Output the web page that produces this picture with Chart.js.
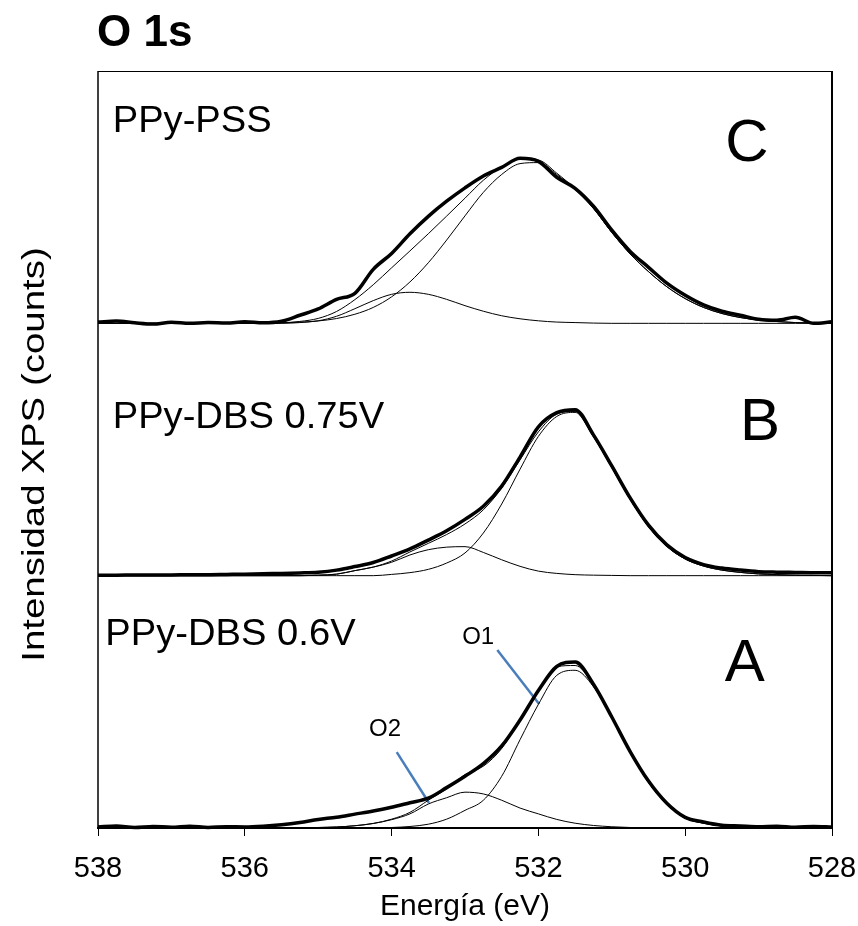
<!DOCTYPE html>
<html>
<head>
<meta charset="utf-8">
<script src="https://cdn.jsdelivr.net/npm/chart.js@4.4.1/dist/chart.umd.min.js"></script>
<style>
  html, body { margin: 0; padding: 0; background: #fff; }
  #wrap { width: 858px; height: 926px; }
</style>
</head>
<body>
<div id="wrap"><canvas id="myChart" width="858" height="926"></canvas></div>
<script>
  // binding energy grid (eV), read every 0.25 eV
  const energy = [538, 537.75, 537.5, 537.25, 537, 536.75, 536.5, 536.25, 536, 535.75,
    535.5, 535.25, 535, 534.75, 534.5, 534.25, 534, 533.75, 533.5, 533.25,
    533, 532.75, 532.5, 532.25, 532, 531.75, 531.5, 531.25, 531, 530.75,
    530.5, 530.25, 530, 529.75, 529.5, 529.25, 529, 528.75, 528.5, 528.25, 528];
  const xTicks = [538, 536, 534, 532, 530, 528];

  // C: PPy-PSS
  const cExp = [0.5, 0.9, 0.2, -0.3, 0.4, 0, 0.3, 0.1, 0.6, 0.2, 0.8, 3.2, 5.7, 9.5, 11.9, 21.4, 27.7, 35.5, 42.4, 48.4,
    53.7, 58.4, 61.8, 65.4, 64.2, 57.9, 53.5, 46.4, 36.9, 28.5, 22.2, 15.9, 11.1, 7.3, 4.8, 3.2, 1.6, 1.2, 2.4, 0, 0.6];
  const cFit = [0, 0, 0, 0, 0, 0, 0, 0, 0, 0, 0.2, 0.75, 1.95, 4.7, 9.4, 15.3, 22, 28.7, 35.5, 42.5,
    49.6, 56.7, 62, 65.1, 64.7, 59.5, 53.3, 45.6, 36, 27.5, 20.5, 14.5, 9.8, 6.3, 3.9, 2.3, 1.3, 0.7, 0.3, 0.1, 0];
  const cO1 = [0, 0, 0, 0, 0, 0, 0, 0, 0, 0, 0.2, 0.45, 0.95, 1.9, 3.6, 6.3, 10.5, 16.4, 24, 33,
    42.6, 51.9, 59, 63.3, 63.7, 59, 53, 45.5, 36, 27.5, 20.5, 14.5, 9.8, 6.3, 3.9, 2.3, 1.3, 0.7, 0.3, 0.1, 0];
  const cO2 = [0, 0, 0, 0, 0, 0, 0, 0, 0, 0, 0, 0.3, 1, 2.8, 5.8, 9, 11.5, 12.3, 11.5, 9.5,
    7, 4.8, 3, 1.8, 1, 0.5, 0.3, 0.1, 0, 0, 0, 0, 0, 0, 0, 0, 0, 0, 0, 0, 0];

  // B: PPy-DBS 0.75V
  const bExp = [0.2, 0.2, 0.3, 0.3, 0.3, 0.4, 0.4, 0.5, 0.6, 0.8, 0.9, 1.1, 1.4, 2.2, 3.6, 5.2, 7.8, 10.6, 14.1, 17.8,
    22.3, 27.5, 35.5, 47, 59, 64.6, 65.8, 55.8, 43.5, 30.8, 20, 12.2, 7.2, 4.4, 3, 2.2, 1.6, 1.4, 1.3, 1.2, 1.2];
  const bFit = [0, 0, 0, 0, 0, 0, 0, 0, 0, 0, 0, 0, 0.2, 0.6, 2, 3.4, 5.8, 9.4, 12.8, 16.3,
    20.5, 26.1, 34.7, 45.9, 57, 64, 65.1, 55.2, 42.9, 30.2, 19.4, 11.6, 6.6, 3.8, 2.2, 1.3, 0.7, 0.4, 0.2, 0.1, 0];
  const bO1 = [0, 0, 0, 0, 0, 0, 0, 0, 0, 0, 0, 0, 0, 0, 0, 0, 0.5, 1.2, 2.5, 5,
    9, 16.9, 28.4, 42.2, 55.2, 63.1, 64.7, 55, 42.8, 30.2, 19.4, 11.6, 6.6, 3.8, 2.2, 1.3, 0.7, 0.4, 0.2, 0.1, 0];
  const bO2 = [0, 0, 0, 0, 0, 0, 0, 0, 0, 0, 0, 0, 0.2, 0.6, 2, 3.4, 5.3, 8.2, 10.3, 11.3,
    11.5, 9.2, 6.3, 3.7, 1.8, 0.9, 0.4, 0.2, 0.1, 0, 0, 0, 0, 0, 0, 0, 0, 0, 0, 0, 0];

  // A: PPy-DBS 0.6V
  const aExp = [0.4, 0.8, 0.2, 0.6, 0.3, 0.7, 0.2, 0.5, 0.4, 0.7, 1.3, 2.2, 3.4, 4.3, 5.5, 6.7, 8.2, 10, 11.8, 16,
    20.5, 25.5, 32.5, 42.8, 54.5, 64, 65.8, 57, 44, 30.3, 18.6, 9.8, 4.2, 2.4, 1.1, 0.8, 0.5, 0.7, 0.3, 0.6, 0.4];
  const aFit = [0, 0, 0, 0, 0, 0, 0, 0, 0, 0, 0, 0, 0.2, 0.4, 0.9, 1.8, 3.5, 6.2, 11, 15.5,
    21.2, 24.5, 31.5, 42.9, 54.6, 63.9, 64.4, 57, 44, 30, 18.1, 9.4, 3.9, 1.9, 0.8, 0.4, 0.2, 0, 0, 0, 0];
  const aO1 = [0, 0, 0, 0, 0, 0, 0, 0, 0, 0, 0, 0, 0, 0, 0, 0, 0.2, 0.6, 1.5, 3.5,
    7, 11, 20.5, 35, 49, 60.5, 62.5, 56, 43.5, 29.8, 18, 9.4, 3.9, 1.9, 0.8, 0.4, 0.2, 0, 0, 0, 0];
  const aO2 = [0, 0, 0, 0, 0, 0, 0, 0, 0, 0, 0, 0, 0.2, 0.4, 0.9, 1.8, 3.3, 5.6, 9.5, 12,
    14.2, 13.5, 11, 7.9, 5.6, 3.4, 1.9, 1, 0.5, 0.2, 0.1, 0, 0, 0, 0, 0, 0, 0, 0, 0, 0];

  // vertical offset of each stacked spectrum
  const offsets = { A: 0, B: 100, C: 200 };

  // pointer lines for the O1 / O2 labels (energy, intensity)
  const o1Pointer = [{ x: 532.56, y: 70.5 }, { x: 531.99, y: 49.1 }];
  const o2Pointer = [{ x: 533.93, y: 30.1 }, { x: 533.49, y: 9.9 }];

  const labels = [
    { text: 'PPy-PSS', x: 537.8, y: 276, size: 36, sx: 1.06, align: 'left', base: 'alphabetic' },
    { text: 'PPy-DBS 0.75V', x: 537.8, y: 158.5, size: 36, sx: 1.06, align: 'left', base: 'alphabetic' },
    { text: 'PPy-DBS 0.6V', x: 537.9, y: 72.5, size: 36, sx: 1.06, align: 'left', base: 'alphabetic' },
    { text: 'C', x: 529.16, y: 271, size: 60, sx: 1, align: 'center', base: 'middle' },
    { text: 'B', x: 528.98, y: 160.5, size: 60, sx: 1, align: 'center', base: 'middle' },
    { text: 'A', x: 529.19, y: 65, size: 60, sx: 1, align: 'center', base: 'middle' },
    { text: 'O1', x: 532.82, y: 75.7, size: 24, sx: 1, align: 'center', base: 'middle' },
    { text: 'O2', x: 534.09, y: 39.2, size: 24, sx: 1, align: 'center', base: 'middle' }
  ];

  const FONT = '"Liberation Sans", Arial, sans-serif';

  function series(vals, off) {
    return energy.map((e, i) => ({ x: e, y: vals[i] + off }));
  }

  function thick(vals, off) {
    return { data: series(vals, off), borderColor: '#000', borderWidth: 3.5, pointRadius: 0,
      cubicInterpolationMode: 'monotone', clip: 5 };
  }
  function thin(vals, off) {
    return { data: series(vals, off), borderColor: '#000', borderWidth: 1, pointRadius: 0,
      cubicInterpolationMode: 'monotone', clip: 5 };
  }

  const data = {
    datasets: [
      thick(aExp, offsets.A), thick(bExp, offsets.B), thick(cExp, offsets.C),
      thin(aFit, offsets.A), thin(aO1, offsets.A), thin(aO2, offsets.A),
      thin(bFit, offsets.B), thin(bO1, offsets.B), thin(bO2, offsets.B),
      thin(cFit, offsets.C), thin(cO1, offsets.C), thin(cO2, offsets.C),
      { data: o1Pointer, borderColor: '#4a7ebb', borderWidth: 2.5, pointRadius: 0 },
      { data: o2Pointer, borderColor: '#4a7ebb', borderWidth: 2.5, pointRadius: 0 }
    ]
  };

  const decor = {
    id: 'decor',
    afterDatasetsDraw(chart) {
      const { ctx, chartArea: a, scales } = chart;
      ctx.save();
      // frame
      ctx.strokeStyle = '#000';
      ctx.lineWidth = 1;
      ctx.beginPath(); ctx.moveTo(a.left, a.top + 0.5); ctx.lineTo(a.right, a.top + 0.5); ctx.stroke();
      ctx.lineWidth = 1.5;
      ctx.beginPath(); ctx.moveTo(a.left, a.top); ctx.lineTo(a.left, a.bottom); ctx.stroke();
      ctx.lineWidth = 2;
      ctx.beginPath(); ctx.moveTo(a.right, a.top); ctx.lineTo(a.right, a.bottom); ctx.stroke();

      ctx.fillStyle = '#000';
      labels.forEach(l => {
        ctx.save();
        ctx.font = l.size + 'px ' + FONT;
        ctx.textAlign = l.align;
        ctx.textBaseline = l.base;
        ctx.translate(scales.x.getPixelForValue(l.x), scales.y.getPixelForValue(l.y));
        ctx.scale(l.sx, 1);
        ctx.fillText(l.text, 0, 0);
        ctx.restore();
      });

      // title
      ctx.font = 'bold 44px ' + FONT;
      ctx.textAlign = 'left';
      ctx.textBaseline = 'middle';
      ctx.fillText('O 1s', a.left - 1, 34);

      // y axis title (stretched along its length like the original)
      ctx.translate(35, (a.top + a.bottom) / 2 + 5);
      ctx.rotate(-Math.PI / 2);
      ctx.scale(1.24, 1);
      ctx.font = '31px ' + FONT;
      ctx.textAlign = 'center';
      ctx.fillText('Intensidad XPS (counts)', 0, 0);
      ctx.restore();
    }
  };

  const config = {
    type: 'line',
    data,
    options: {
      responsive: false,
      animation: false,
      layout: { padding: { left: 98, right: 26, top: 71, bottom: 0 } },
      plugins: { legend: { display: false }, tooltip: { enabled: false } },
      scales: {
        x: {
          type: 'linear',
          min: 528,
          max: 538,
          reverse: true,
          afterFit: (s) => { s.height = 98; s.paddingLeft = 0; s.paddingRight = 0; },
          afterBuildTicks: (s) => { s.ticks = xTicks.map(v => ({ value: v })); },
          ticks: { color: '#000', padding: 16, maxRotation: 0, font: { family: FONT, size: 29 } },
          grid: { drawOnChartArea: false, drawTicks: true, tickLength: 8, color: '#000', lineWidth: 1 },
          border: { color: '#000', width: 2 },
          title: { display: true, text: 'Energía (eV)', color: '#000', padding: { top: 0, bottom: 1 },
            font: { family: FONT, size: 30 } }
        },
        y: { type: 'linear', min: 0, max: 300, display: false }
      }
    },
    plugins: [decor]
  };

  const myChart = new Chart(document.getElementById('myChart'), config);
</script>
</body>
</html>
